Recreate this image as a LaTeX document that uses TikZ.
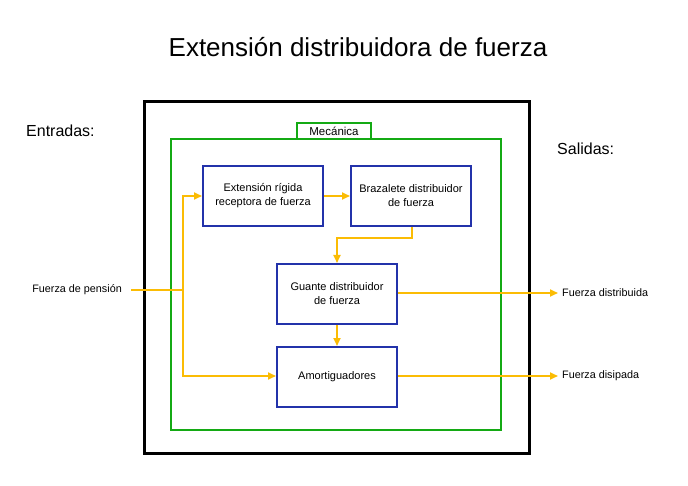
\documentclass[tikz,border=0pt]{standalone}
\usepackage{fontspec}
\setmainfont{Liberation Sans}
\usetikzlibrary{arrows.meta}
\definecolor{flow}{RGB}{251,188,4}
\definecolor{grn}{RGB}{20,170,20}
\definecolor{blu}{RGB}{35,50,170}
\begin{document}
\begin{tikzpicture}[x=1pt,y=-1pt,
  blk/.style={draw=blu,line width=2pt,minimum width=120pt,minimum height=60pt,inner sep=0pt,align=center,font=\fontsize{11}{14}\selectfont},
  lbl/.style={inner sep=0pt,font=\fontsize{10.8}{13}\selectfont},
  flw/.style={draw=flow,line width=1.8pt,-{Triangle[length=8pt,width=7pt]}},
  fln/.style={draw=flow,line width=1.8pt}]
\path[use as bounding box] (0,0) rectangle (688,486);
\node[font=\fontsize{26}{31}\selectfont,inner sep=0pt] (title) at (358,47) {Extensión distribuidora de fuerza};
\node[draw=black,line width=3pt,minimum width=385pt,minimum height=351pt,inner sep=0pt] (outer) at (337,277.5) {};
\node[draw=grn,line width=2pt,minimum width=330pt,minimum height=291pt,inner sep=0pt] (mech) at (336,284.5) {};
\node[draw=grn,line width=2pt,fill=white,minimum width=74pt,minimum height=16pt,inner sep=0pt,font=\fontsize{11.5}{14}\selectfont] (mlbl) at (334,131) {Mecánica};
\node[inner sep=0pt,anchor=west,font=\fontsize{16}{19}\selectfont] (ent) at (26,131) {Entradas:};
\node[inner sep=0pt,anchor=west,font=\fontsize{16}{19}\selectfont] (sal) at (557,149) {Salidas:};
\node[blk] (b1) at (263,196) {Extensión rígida\\receptora de fuerza};
\node[blk] (b2) at (411,196) {Brazalete distribuidor\\de fuerza};
\node[blk] (b3) at (337,294) {Guante distribuidor\\de fuerza};
\node[blk] (b4) at (337,377) {Amortiguadores};
\node[lbl,anchor=east] (fin) at (122,290) {Fuerza de pensión};
\coordinate (in) at (131,290);
\coordinate (j) at (183,290);
\node[lbl,anchor=west] (fd) at (562,293) {Fuerza distribuida};
\node[lbl,anchor=west] (fs) at (562,376) {Fuerza disipada};
\coordinate (od) at (558,293);
\coordinate (os) at (558,376);
\draw[fln] (in) -- (j);
\draw[flw] (j) |- (b1.west);
\draw[flw] (j) |- ([yshift=1pt]b4.west);
\draw[flw] (b1.east) -- (b2.west);
\draw[flw] ([xshift=1pt]b2.south) |- (337,238) -- (b3.north);
\draw[flw] (b3.south) -- (b4.north);
\draw[flw] (b3.east |- od) -- (od);
\draw[flw] (b4.east |- os) -- (os);
\end{tikzpicture}
\end{document}
